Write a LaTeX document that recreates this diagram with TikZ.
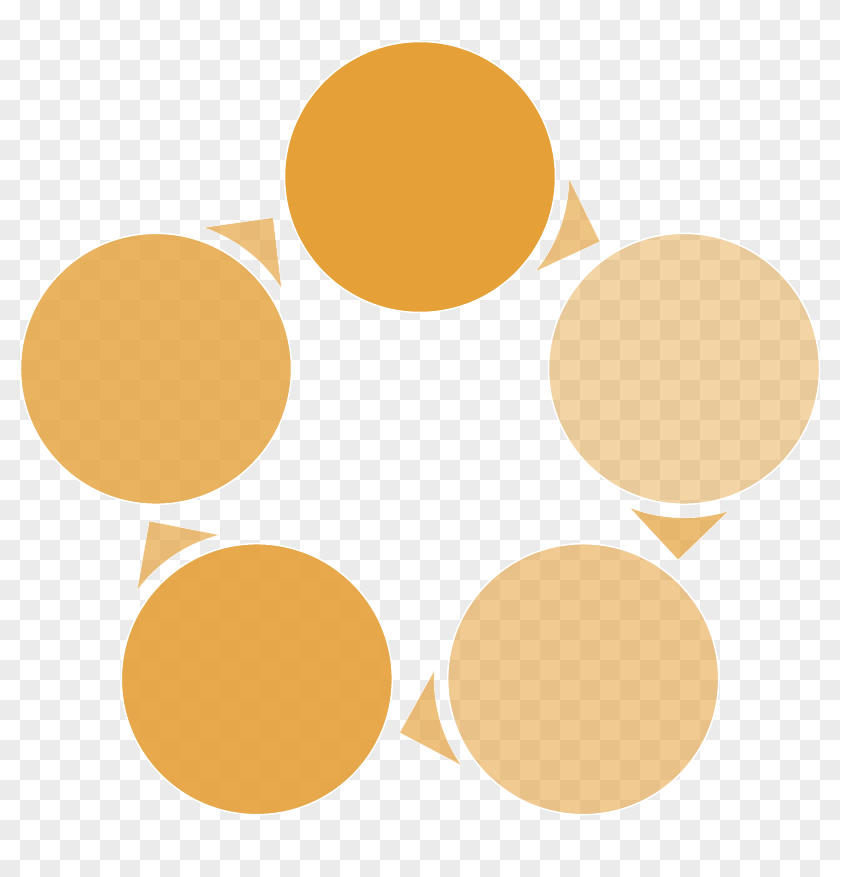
\documentclass[tikz,border=0pt]{standalone}
\usetikzlibrary{calc}
\definecolor{base}{RGB}{229,160,56}
\definecolor{chk}{RGB}{235,235,235}
\tikzset{
  disc/.style={circle, minimum size=271pt, inner sep=0pt, outer sep=0pt,
    fill=base, draw=white, draw opacity=1, line width=1.5pt},
  arrowtri/.style={fill=base, draw=white, draw opacity=0.8, line width=0.6pt}
}
\begin{document}
\begin{tikzpicture}[x=1pt,y=1pt]
\useasboundingbox (0,0) rectangle (840,-877);
\fill[white] (0,0) rectangle (840,-877);
\foreach \i in {0,2,...,40}{
  \foreach \j in {1,3,...,43}{
    \fill[chk] (20*\i,-20*\j) rectangle ++(20,-20);
    \fill[chk] (20*\i+20,-20*\j+20) rectangle ++(20,-20);
  }
}
\coordinate (P) at (420,-454.6);
\foreach \a/\o/\n in {90/1/c1, 18/0.45/c2, -54/0.55/c3, -126/0.9/c4, 162/0.8/c5}{
  \node[disc, fill opacity=\o] (\n) at ($(P)+(\a:277.6)$) {};
}
\foreach \k/\o in {0/0.62, 1/0.7, 2/0.66, 3/0.66, 4/0.66}{
  \begin{scope}[shift={(P)}, rotate=-72*\k]
    \path[arrowtri, fill opacity=\o] (148.99,276.3) -- (180,212.9) -- (114.96,182.82)
      arc[start angle=-39.5, end angle=-0.5, radius=149] -- cycle;
  \end{scope}
}
\end{tikzpicture}
\end{document}
